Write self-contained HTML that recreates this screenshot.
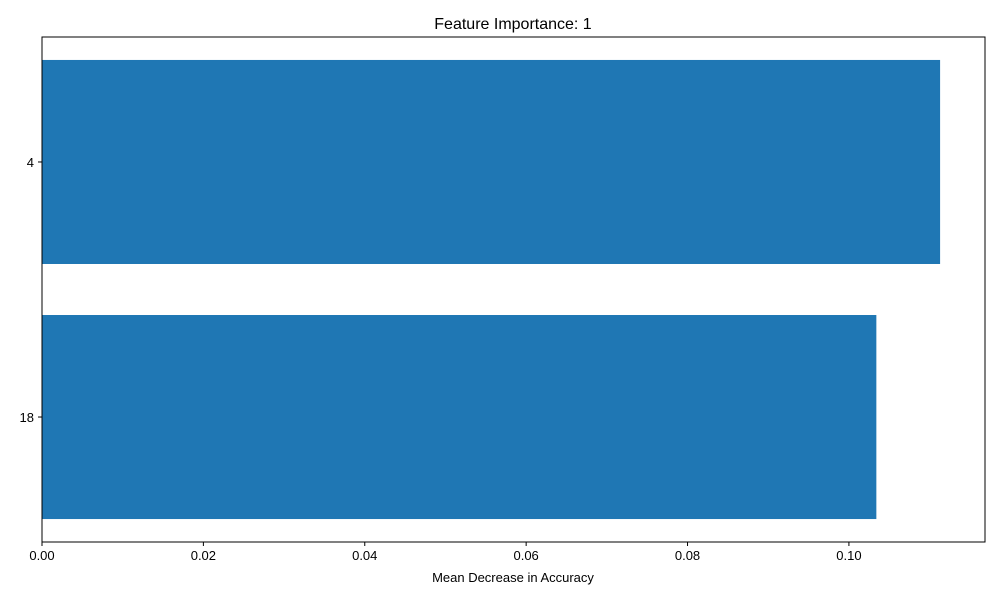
<!DOCTYPE html>
<html><head><meta charset="utf-8"><style>
body{margin:0;background:#fff;}
svg text{font-family:"Liberation Sans","DejaVu Sans",sans-serif;fill:#000;}
</style></head><body>
<svg id="chart" width="1000" height="600">
<rect x="0" y="0" width="1000" height="600" fill="#fff"/>
<text x="513" y="29" font-size="16" text-anchor="middle">Feature Importance: 1</text>
<g id="bars"></g>
<g id="xticks"></g>
<g id="yticks"></g>
<rect x="42" y="37" width="943" height="505" fill="none" stroke="#000" stroke-width="1"/>
<text x="513" y="582" font-size="13" text-anchor="middle">Mean Decrease in Accuracy</text>
</svg>
<script>
const categories = ["18", "4"];
const values = [0.1034, 0.1113];
const xTicks = [0, 0.02, 0.04, 0.06, 0.08, 0.10];
const xTickLabels = ["0.00", "0.02", "0.04", "0.06", "0.08", "0.10"];

const L = 42, R = 985, T = 37, B = 542;
const xMax = Math.max(...values) * 1.05;
const xs = v => L + (v / xMax) * (R - L);
const span = (categories.length - 1) + 0.8;
const yMin = -0.4 - 0.05 * span, yMax = categories.length - 1 + 0.4 + 0.05 * span;
const ys = i => B - (i - yMin) / (yMax - yMin) * (B - T);
const NS = "http://www.w3.org/2000/svg";
const mk = (tag, attrs, parent) => { const e = document.createElementNS(NS, tag); for (const k in attrs) e.setAttribute(k, attrs[k]); parent.appendChild(e); return e; };

const bars = document.getElementById("bars");
categories.forEach((c, i) => {
  const y0 = ys(i + 0.4), y1 = ys(i - 0.4);
  const r = mk("rect", {x: xs(0), y: y0, width: xs(values[i]) - xs(0), height: y1 - y0, fill: "#1f77b4"}, bars);
  
  
});

const xt = document.getElementById("xticks");
xTicks.forEach((v, i) => {
  const x = xs(v);
  const l = mk("line", {x1: x, x2: x, y1: B, y2: B + 4, stroke: "#000"}, xt);
  
  
  const t = mk("text", {x: x, y: B + 18, "font-size": 13, "text-anchor": "middle"}, xt);
  t.textContent = xTickLabels[i];
  
  
});

const yt = document.getElementById("yticks");
categories.forEach((c, i) => {
  const y = ys(i);
  const l = mk("line", {x1: L - 4, x2: L, y1: y, y2: y, stroke: "#000"}, yt);
  
  
  const t = mk("text", {x: L - 8, y: y + 5, "font-size": 13, "text-anchor": "end"}, yt);
  t.textContent = c;
  
  
});
</script>
</body></html>
